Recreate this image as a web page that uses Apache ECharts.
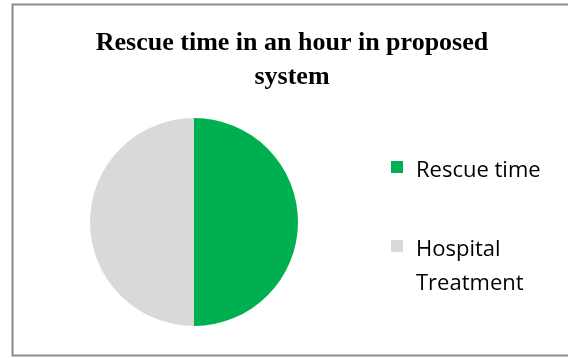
<!DOCTYPE html>
<html>
<head>
<meta charset="utf-8">
<script src="https://cdn.jsdelivr.net/npm/echarts@6/dist/echarts.min.js"></script>
<style>
html,body{margin:0;padding:0;background:#fff;}
#chart{width:568px;height:358px;}
</style>
</head>
<body>
<div id="chart"></div>
<script>
const titleText = 'Rescue time in an hour in proposed\nsystem';
const categories = ['Rescue time', 'Hospital Treatment'];
const legendLines = [['Rescue time'], ['Hospital', 'Treatment']];
const values = [50, 50];
const colors = ['#00B050', '#D9D9D9'];

const chart = echarts.init(document.getElementById('chart'), null, {renderer: 'canvas'});
const baseText = {fontFamily: 'Open Sans', fontSize: 22, color: '#000', lineHeight: 34};
const richStyles = {
  t: Object.assign({}, baseText, {padding: [0, 0, 0, 8]}),
  t1: Object.assign({}, baseText, {padding: [8, 0, 0, 8]}),
  e: Object.assign({}, baseText, {lineHeight: 42})
};
function legendCfg(idx, top, fmt) {
  return {
    data: [categories[idx]],
    orient: 'vertical',
    left: 391,
    top: top,
    padding: 0,
    itemWidth: 12,
    itemHeight: 12,
    icon: 'rect',
    itemStyle: {borderWidth: 0},
    formatter: fmt,
    textStyle: Object.assign({rich: richStyles}, baseText)
  };
}
chart.setOption({
  animation: false,
  backgroundColor: '#fff',
  title: {
    text: titleText,
    left: 292,
    top: 26,
    padding: 0,
    textAlign: 'center',
    textStyle: {fontFamily: 'Liberation Serif', fontWeight: 'bold', fontSize: 26, color: '#000', lineHeight: 34}
  },
  legend: [
    legendCfg(0, 150, () => '{t1|' + legendLines[0][0] + '}'),
    legendCfg(1, 191, () => '{e| }\n' + legendLines[1].map(s => '{t|' + s + '}').join('\n'))
  ],
  graphic: [{
    type: 'rect',
    silent: true,
    z: -1,
    shape: {x: 12.5, y: 4.5, width: 600, height: 351},
    style: {fill: 'none', stroke: '#8a8a8a', lineWidth: 2}
  }],
  series: [{
    type: 'pie',
    center: [194, 222],
    radius: 104,
    startAngle: 90,
    clockwise: true,
    label: {show: false},
    labelLine: {show: false},
    itemStyle: {borderWidth: 0},
    emphasis: {disabled: true},
    data: categories.map((c, i) => ({name: c, value: values[i], itemStyle: {color: colors[i]}}))
  }]
});
</script>
</body>
</html>
